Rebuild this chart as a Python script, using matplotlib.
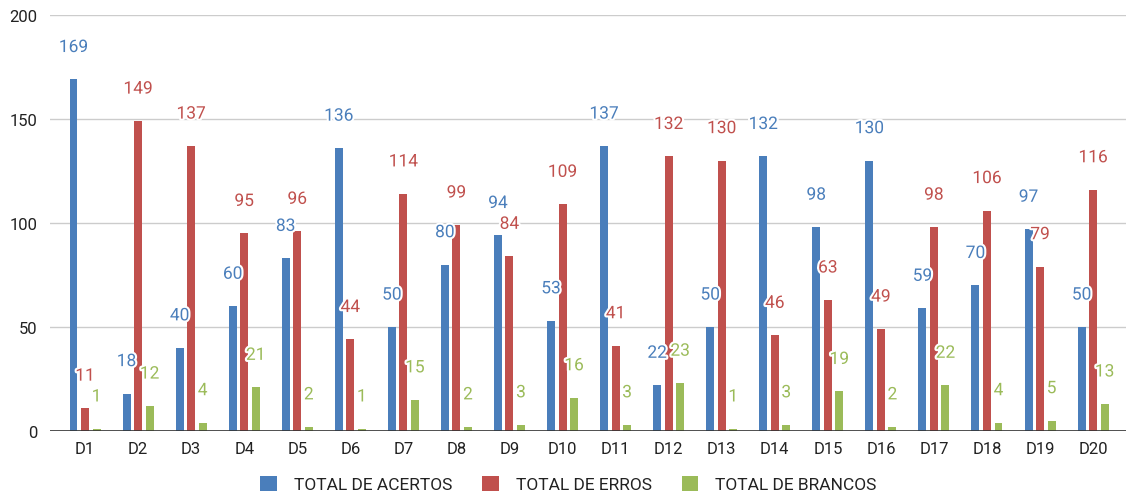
import matplotlib.pyplot as plt
import matplotlib.patheffects as pe
import numpy as np

days = ['D%d' % i for i in range(1, 21)]
acertos = [169, 18, 40, 60, 83, 136, 50, 80, 94, 53, 137, 22, 50, 132, 98, 130, 59, 70, 97, 50]
erros = [11, 149, 137, 95, 96, 44, 114, 99, 84, 109, 41, 132, 130, 46, 63, 49, 98, 106, 79, 116]
brancos = [1, 12, 4, 21, 2, 1, 15, 2, 3, 16, 3, 23, 1, 3, 19, 2, 22, 4, 5, 13]

series = [
    ('TOTAL DE ACERTOS', acertos, '#4a7ebb'),
    ('TOTAL DE ERROS', erros, '#c0504d'),
    ('TOTAL DE BRANCOS', brancos, '#9bbb59'),
]

plt.rcParams['font.family'] = ['Roboto', 'DejaVu Sans']

fig = plt.figure(figsize=(11.26, 5.02), dpi=100)
ax = fig.add_axes([50 / 1126, 70 / 502, 1076 / 1126, 416 / 502])

x = np.arange(len(days))
offsets = [-0.217, 0, 0.217]
width = 0.15

for (name, vals, color), off in zip(series, offsets):
    ax.bar(x + off, vals, width, color=color, label=name, zorder=3)
    for xi, v in zip(x, vals):
        ax.annotate(str(v), (xi + off, v), xytext=(0, 23), textcoords='offset points',
                    ha='center', va='center', fontsize=12.5, color=color, zorder=5,
                    path_effects=[pe.withStroke(linewidth=3, foreground='white')])

ax.set_xlim(-0.66, len(days) - 0.38)
ax.set_ylim(0, 200)
ax.set_yticks([0, 50, 100, 150, 200])
ax.set_xticks(x)
ax.set_xticklabels(days)
ax.tick_params(axis='both', length=0, labelsize=12, colors='#222222')
ax.tick_params(axis='x', pad=7)
ax.tick_params(axis='y', pad=9)
ax.grid(axis='y', color='#cccccc', linewidth=1, zorder=0)
ax.axhline(0, color='#333333', linewidth=1.2, zorder=4)
for s in ax.spines.values():
    s.set_visible(False)

leg = fig.legend(loc='lower center', bbox_to_anchor=(0.505, -0.014), ncol=3, frameon=False,
                 fontsize=12.5, handlelength=0.95, handleheight=0.95, columnspacing=1.7,
                 handletextpad=1.0)
for t in leg.get_texts():
    t.set_color('#222222')

plt.savefig('out.png')
